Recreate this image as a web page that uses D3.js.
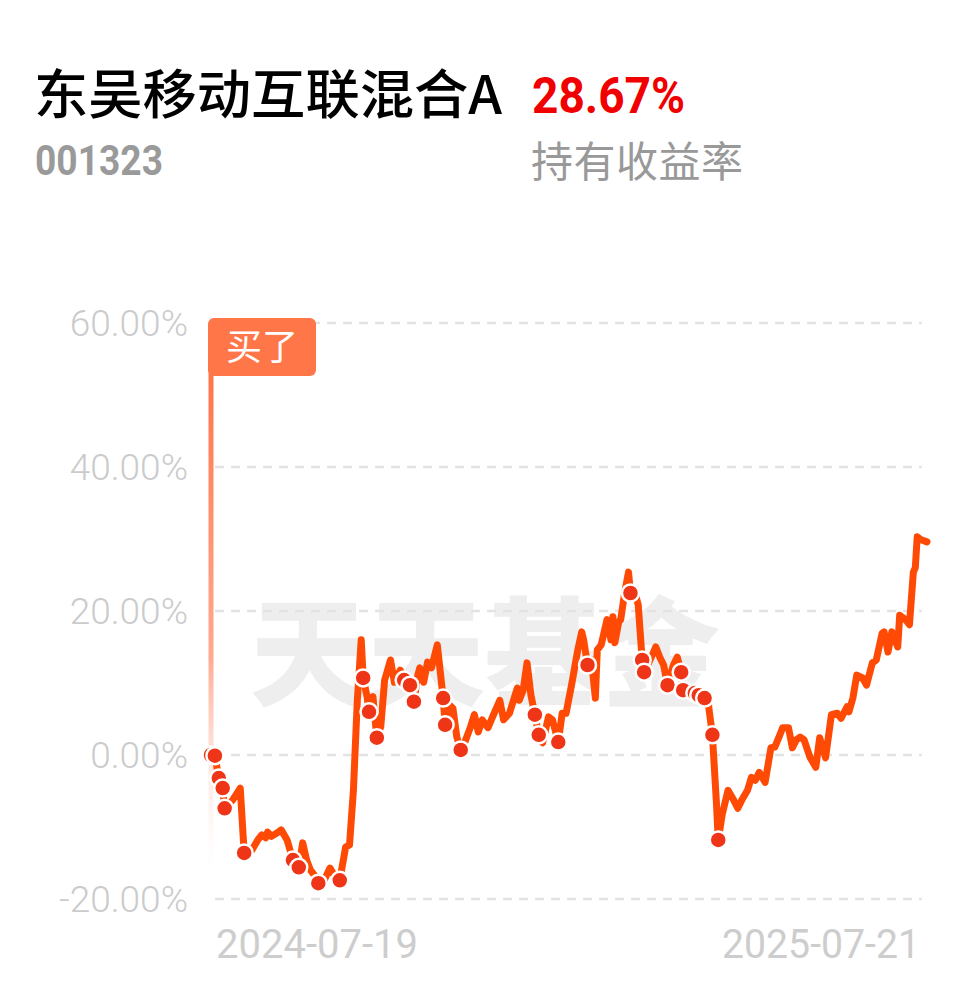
<!DOCTYPE html>
<html><head><meta charset="utf-8">
<script src="https://cdn.jsdelivr.net/npm/d3@7"></script>
<style>
html,body{margin:0;padding:0;background:#fff;}
svg{display:block;}
</style></head>
<body>
<svg id="chart" width="978" height="986"></svg>
<script>
// ---- data ----
const fundName = "东吴移动互联混合A";
const fundCode = "001323";
const holdReturn = "28.67%";
const holdReturnLabel = "持有收益率";
const buyLabel = "买了";
const watermark = "天天基金";
const startDate = "2024-07-19";
const endDate = "2025-07-21";
const yTicks = [60, 40, 20, 0, -20];
// days since purchase
const days = [0,2,4,6,7,11,15,17,21,24,26,28,29,31,34,36,39,42,45,47,49,51,53,55,58,61,64,66,69,71,73,75,77,78,80,81,83,85,87,89,92,94,97,99,102,104,106,107,109,111,113,116,119,120,122,124,126,128,130,133,135,137,139,142,144,148,150,153,157,158,160,162,164,166,168,170,173,175,178,180,182,185,188,190,191,193,195,197,198,200,203,205,206,207,209,210,212,214,215,217,219,221,222,225,228,230,232,234,237,239,241,242,245,248,250,253,255,257,259,260,262,265,268,270,272,275,277,279,281,284,287,289,291,293,296,298,300,302,304,307,310,312,315,318,321,323,326,327,329,331,334,336,339,341,344,345,347,349,352,353,356,358,360,361,362,364,367];
// holding return, %
const values = [0.0,-0.1,-3.2,-4.6,-7.4,-6.3,-4.6,-13.6,-13.2,-11.8,-11.1,-11.5,-10.7,-11.3,-10.8,-10.4,-11.8,-14.6,-15.6,-12.2,-14.6,-16.0,-16.7,-17.8,-17.4,-15.7,-17.1,-17.4,-12.8,-12.5,-4.9,7.6,16.0,10.7,8.1,6.0,8.1,2.4,3.9,10.4,13.2,10.1,11.8,10.4,9.7,7.4,11.1,12.1,10.1,12.9,12.1,15.3,7.9,4.2,7.0,6.5,2.5,0.7,1.7,3.9,5.6,3.2,4.9,3.8,5.1,7.6,4.9,5.8,9.3,7.6,9.0,12.8,8.3,5.6,2.8,1.7,5.3,4.9,1.8,5.8,5.8,10.0,14.6,17.1,16.0,12.5,13.2,7.9,14.6,15.3,18.8,16.0,19.2,15.6,18.5,18.8,22.5,25.4,22.5,22.9,20.8,13.2,11.5,13.2,15.0,13.6,12.5,9.7,12.5,13.6,11.5,9.0,9.3,8.6,8.3,7.9,6.9,2.8,-6.3,-11.8,-8.3,-4.9,-6.3,-7.4,-6.3,-4.9,-3.1,-3.5,-2.4,-3.8,1.0,1.1,2.4,3.8,3.8,1.0,2.1,2.5,2.1,-0.3,-1.7,2.4,-0.4,5.6,5.8,5.1,6.7,6.0,7.9,11.1,10.7,9.7,12.8,13.2,16.9,17.1,14.3,17.1,15.0,19.4,18.8,18.1,25.4,26.0,30.3,29.9,29.6];
// days with trades (dots)
const tradeDays = [0,2,4,6,7,17,42,45,55,66,78,81,85,99,102,104,119,120,128,166,168,178,193,215,221,222,234,241,242,248,250,253,257,260];

// ---- drawing ----
const svg = d3.select("#chart");
const parse = d3.timeParse("%Y-%m-%d");
const d0 = parse(startDate), d1 = parse(endDate);
const data = days.map((d, i) => ({date: d3.timeDay.offset(d0, d), value: values[i], day: d}));
const byDay = new Map(data.map(d => [d.day, d]));

const x = d3.scaleTime().domain([d0, d1]).range([211, 927]);
const y = d3.scaleLinear().domain([-20, 60]).range([899, 323]);

// header
svg.append("text").attr("x", 34).attr("y", 114)
  .attr("font-family", "'Noto Sans CJK SC', sans-serif").attr("font-weight", 500)
  .attr("font-size", 53).attr("fill", "#000").attr("textLength", 468).attr("lengthAdjust", "spacingAndGlyphs")
  .text(fundName);
svg.append("text").attr("x", 532).attr("y", 113)
  .attr("font-family", "Roboto, sans-serif").attr("font-weight", 700)
  .attr("font-size", 50).attr("fill", "#f00000").attr("textLength", 153).attr("lengthAdjust", "spacingAndGlyphs")
  .text(holdReturn);
svg.append("text").attr("x", 35).attr("y", 175)
  .attr("font-family", "Roboto, sans-serif").attr("font-weight", 700)
  .attr("font-size", 42).attr("fill", "#9a9a9a").attr("textLength", 128).attr("lengthAdjust", "spacingAndGlyphs")
  .text(fundCode);
svg.append("text").attr("x", 531).attr("y", 177)
  .attr("font-family", "'Noto Sans CJK SC', sans-serif").attr("font-weight", 400)
  .attr("font-size", 42).attr("fill", "#999").attr("textLength", 212).attr("lengthAdjust", "spacing")
  .text(holdReturnLabel);

// watermark
svg.append("text").attr("x", 485).attr("y", 655).attr("dy", "0.36em")
  .attr("text-anchor", "middle")
  .attr("font-family", "'Noto Sans CJK SC', sans-serif").attr("font-weight", 900)
  .attr("font-size", 118).attr("fill", "#eeeeee").attr("textLength", 470).attr("lengthAdjust", "spacing")
  .text(watermark);

// grid
const grid = svg.append("g");
grid.selectAll("line").data(yTicks).join("line")
  .attr("x1", 215).attr("x2", 922)
  .attr("y1", d => y(d)).attr("y2", d => y(d))
  .attr("stroke", "#e3e3e3").attr("stroke-width", 2.5).attr("stroke-dasharray", "9,7");

// y axis labels
const locale = d3.formatLocale({decimal: ".", thousands: ",", grouping: [3], currency: ["", ""], minus: "-"});
const fmt = d => locale.format(".2f")(d) + "%";
svg.append("g").selectAll("text").data(yTicks).join("text")
  .attr("x", 188).attr("y", d => y(d)).attr("dy", "0.36em")
  .attr("text-anchor", "end")
  .attr("font-family", "Roboto, sans-serif").attr("font-weight", 300)
  .attr("font-size", 37).attr("fill", "#cbcbcb")
  .text(d => fmt(d));

// x labels
svg.append("text").attr("x", 216).attr("y", 958)
  .attr("font-family", "Roboto, sans-serif").attr("font-weight", 400)
  .attr("font-size", 40).attr("fill", "#cdcdcd").attr("textLength", 202).attr("lengthAdjust", "spacingAndGlyphs")
  .text(startDate);
svg.append("text").attr("x", 920).attr("y", 958).attr("text-anchor", "end")
  .attr("font-family", "Roboto, sans-serif").attr("font-weight", 400)
  .attr("font-size", 40).attr("fill", "#cdcdcd").attr("textLength", 198).attr("lengthAdjust", "spacingAndGlyphs")
  .text(endDate);

// buy marker
const defs = svg.append("defs");
const lg = defs.append("linearGradient").attr("id", "buyGrad")
  .attr("x1", 0).attr("y1", 0).attr("x2", 0).attr("y2", 1);
lg.append("stop").attr("offset", "0%").attr("stop-color", "#ff7448").attr("stop-opacity", 1);
lg.append("stop").attr("offset", "55%").attr("stop-color", "#ff8460").attr("stop-opacity", 0.7);
lg.append("stop").attr("offset", "100%").attr("stop-color", "#ffffff").attr("stop-opacity", 0);
const bx = x(d0);
svg.append("rect").attr("x", bx - 2.5).attr("y", 370).attr("width", 5).attr("height", 520)
  .attr("fill", "url(#buyGrad)");
svg.append("rect").attr("x", bx - 3).attr("y", 318).attr("width", 108).attr("height", 58).attr("rx", 6)
  .attr("fill", "#ff7649");
svg.append("text").attr("x", bx + 51).attr("y", 347).attr("dy", "0.36em").attr("text-anchor", "middle")
  .attr("font-family", "'Noto Sans CJK SC', sans-serif").attr("font-size", 36).attr("fill", "#fff")
  .text(buyLabel);

// line
const line = d3.line().x(d => x(d.date)).y(d => y(d.value));
svg.append("path").datum(data)
  .attr("d", line).attr("fill", "none")
  .attr("stroke", "#ff4a05").attr("stroke-width", 7)
  .attr("stroke-linejoin", "round").attr("stroke-linecap", "round");

// trade dots
svg.append("g").selectAll("circle").data(tradeDays.map(d => byDay.get(d))).join("circle")
  .attr("cx", d => x(d.date)).attr("cy", d => y(d.value)).attr("r", 8.5)
  .attr("fill", "#ee3517").attr("stroke", "#fff").attr("stroke-width", 2.5);
</script>
</body></html>
